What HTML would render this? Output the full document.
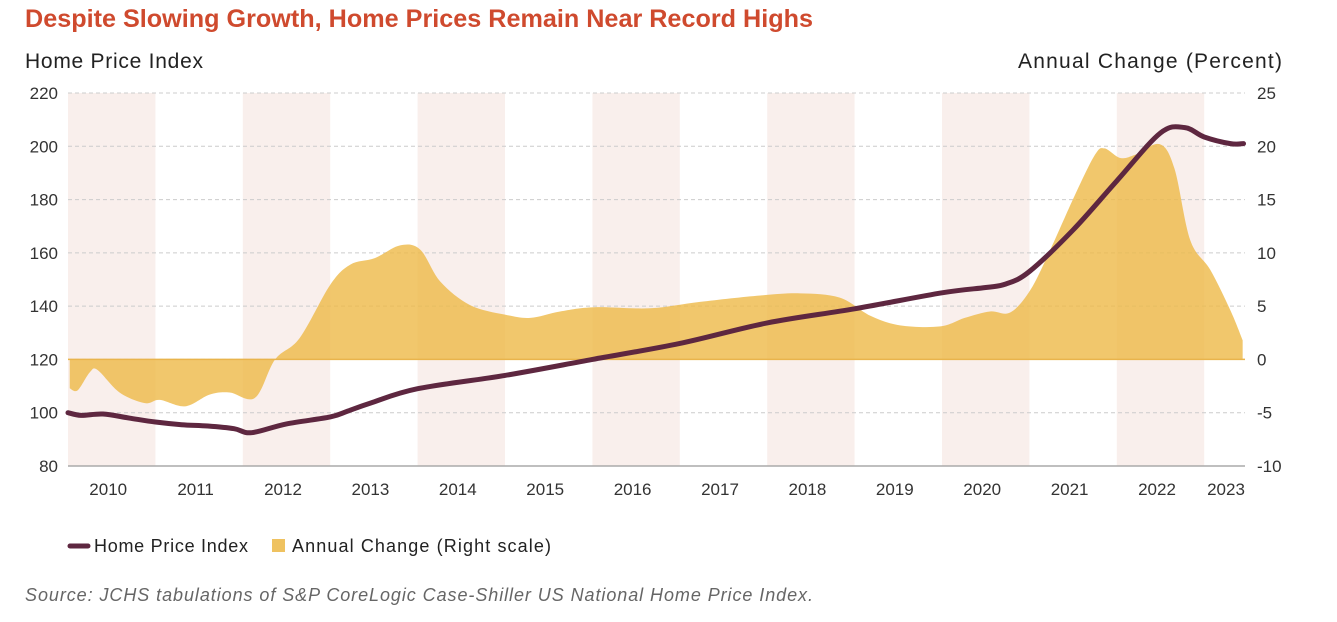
<!DOCTYPE html>
<html><head><meta charset="utf-8"><style>
body{margin:0;background:#fff;width:1337px;height:617px;overflow:hidden;font-family:"Liberation Sans",sans-serif}
</style></head><body>
<svg id="chart" width="1337" height="617" xmlns="http://www.w3.org/2000/svg">
<text x="25" y="27" font-size="25" font-weight="bold" fill="#cf4a2e" textLength="788" lengthAdjust="spacingAndGlyphs">Despite Slowing Growth, Home Prices Remain Near Record Highs</text>
<text x="25" y="68" font-size="21" fill="#222" textLength="178">Home Price Index</text>
<text x="1018" y="68" font-size="21" fill="#222" textLength="264">Annual Change (Percent)</text>
<g id="bands"></g><g id="grid"></g><g id="area"></g><g id="lineg"></g><g id="axes"></g>
<g>
<line x1="70" y1="546" x2="88" y2="546" stroke="#5e2740" stroke-width="5" stroke-linecap="round"/>
<text x="94" y="552" font-size="18" fill="#222" textLength="154">Home Price Index</text>
<rect x="272" y="539" width="13" height="13" fill="#efc260"/>
<text x="292" y="552" font-size="18" fill="#222" textLength="259">Annual Change (Right scale)</text>
</g>
<text x="25" y="601" font-size="18" font-style="italic" fill="#666" textLength="788">Source: JCHS tabulations of S&amp;P CoreLogic Case-Shiller US National Home Price Index.</text>
</svg>
<script>
const years=[2010,2011,2012,2013,2014,2015,2016,2017,2018,2019,2020,2021,2022,2023];
const leftTicks=[80,100,120,140,160,180,200,220];
const rightTicks=[-10,-5,0,5,10,15,20,25];
const hpiT=[0,.15,.4,.7,1.0,1.3,1.6,1.9,2.1,2.5,3.0,3.2,3.46,4.0,5.0,6.0,7.0,8.0,9.0,10.0,10.5,10.73,11.0,11.5,12.0,12.5,12.78,13.0,13.3,13.45];
const hpiV=[100,99,99.5,98,96.5,95.5,95,94,92.5,95.8,98.4,100.6,103.6,109,114,120,126,133.7,139,145,147,148.3,153,168.6,187,205,207,203.5,201,201];
const chgT=[.02,.11,.25,.34,.59,.88,1.05,1.34,1.62,1.85,2.14,2.37,2.65,3.0,3.23,3.51,3.80,4.03,4.26,4.60,5.0,5.29,5.63,6.02,6.66,7.23,7.92,8.38,8.83,9.18,9.52,9.98,10.26,10.55,10.78,11.01,11.24,11.52,11.75,11.86,12.04,12.21,12.49,12.66,12.84,13.07,13.30,13.44];
const chgV=[-2.7,-2.9,-1.2,-1,-3.1,-4.1,-3.8,-4.4,-3.3,-3.1,-3.6,0,2,7,8.9,9.5,10.7,10.3,7.3,5.1,4.2,3.9,4.5,4.9,4.8,5.4,6,6.2,5.8,4.1,3.2,3.1,3.9,4.5,4.4,6.5,10.3,15.4,19.2,19.8,18.9,19.2,20.2,17.9,11.2,8.4,4.6,1.8];
const X0=68,YW=87.4;
const x=t=>X0+t*YW;
const yL=v=>466-(v-80)*373/140;
const yR=v=>466-(v+10)*373/35;
const NS='http://www.w3.org/2000/svg';
function mk(tag,attrs,parent){const e=document.createElementNS(NS,tag);for(const k in attrs)e.setAttribute(k,attrs[k]);document.getElementById(parent).appendChild(e);return e;}
function smooth(pts){let d='M'+pts[0][0]+','+pts[0][1];for(let i=0;i<pts.length-1;i++){const p0=pts[Math.max(0,i-1)],p1=pts[i],p2=pts[i+1],p3=pts[Math.min(pts.length-1,i+2)];const c1=[p1[0]+(p2[0]-p0[0])/6,p1[1]+(p2[1]-p0[1])/6],c2=[p2[0]-(p3[0]-p1[0])/6,p2[1]-(p3[1]-p1[1])/6];d+=`C${c1[0]},${c1[1]} ${c2[0]},${c2[1]} ${p2[0]},${p2[1]}`;}return d;}
years.forEach((yr,i)=>{
 if(i%2===0&&i<13){const b=mk('rect',{x:x(i),y:93,width:YW,height:373,fill:'#f9efec'},'bands');
 
 }
 const lx=i===13?1226:x(i+0.46);
 const t=mk('text',{x:lx,y:495,'font-size':17,fill:'#333','text-anchor':'middle'},'axes');t.textContent=yr;
 
 
});
leftTicks.forEach((v,i)=>{
 const y=yL(v);
 if(v>80){const g=mk('line',{x1:68,x2:1245,y1:y,y2:y,stroke:'#ccc','stroke-dasharray':'4,3'},'grid');
 
 }
 const t=mk('text',{x:58,y:y+6,'font-size':17,fill:'#333','text-anchor':'end'},'axes');t.textContent=v;
 
 
 const r=mk('text',{x:1257,y:yR(rightTicks[i])+6,'font-size':17,fill:'#333'},'axes');r.textContent=rightTicks[i];
 
 
});
const ax=mk('line',{x1:68,x2:1245,y1:466,y2:466,stroke:'#aaa','stroke-width':1.5},'axes');


const cp=chgT.map((t,i)=>[x(t),yR(chgV[i])]);
const y0=yR(0);
const ap=mk('path',{d:smooth(cp)+`L${cp[cp.length-1][0]},${y0}L${cp[0][0]},${y0}Z`,fill:'#edb947','fill-opacity':0.8},'area');


const zl=mk('line',{x1:68,x2:1245,y1:y0,y2:y0,stroke:'#e9b44c','stroke-width':1.5},'area');


const hp=hpiT.map((t,i)=>[x(t),yL(hpiV[i])]);
const lp=mk('path',{d:smooth(hp),fill:'none',stroke:'#5e2740','stroke-width':5,'stroke-linecap':'round','stroke-linejoin':'round'},'lineg');


</script>
</body></html>
